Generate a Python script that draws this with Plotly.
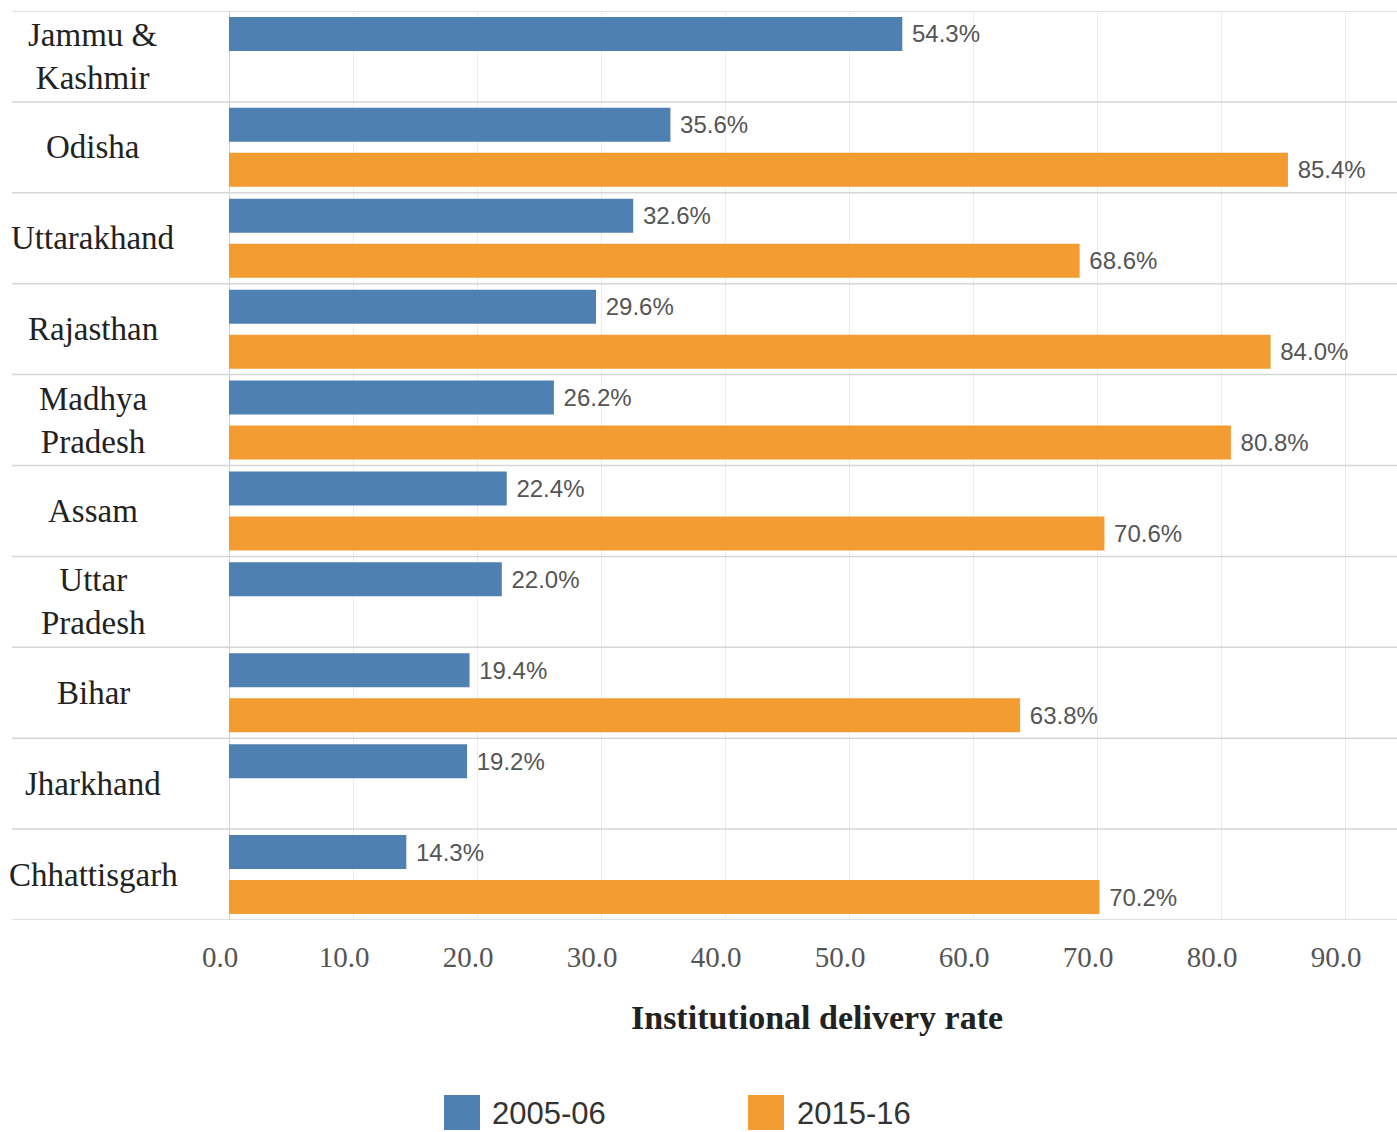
import plotly.graph_objects as go

states = ["Jammu &<br>Kashmir", "Odisha", "Uttarakhand", "Rajasthan", "Madhya<br>Pradesh",
          "Assam", "Uttar<br>Pradesh", "Bihar", "Jharkhand", "Chhattisgarh"]
rate_2005 = [54.3, 35.6, 32.6, 29.6, 26.2, 22.4, 22.0, 19.4, 19.2, 14.3]
rate_2015 = [None, 85.4, 68.6, 84.0, 80.8, 70.6, None, 63.8, None, 70.2]
series_names = ["2005-06", "2015-16"]
tick_vals = [0, 10, 20, 30, 40, 50, 60, 70, 80, 90]
tick_text = ["0.0", "10.0", "20.0", "30.0", "40.0", "50.0", "60.0", "70.0", "80.0", "90.0"]

BLUE = "#4f80b2"
ORANGE = "#f39c32"
W, H = 1397, 1132
ML, MR, MT, MB = 229, 0, 11, 212
PW = W - ML - MR
PH = H - MT - MB

def px_x(X):
    return (X - ML) / PW

def px_y(Y):
    return (H - MB - Y) / PH

cat_idx = list(range(len(states)))

fig = go.Figure()
for vals, name, col in [(rate_2005, series_names[0], BLUE), (rate_2015, series_names[1], ORANGE)]:
    fig.add_trace(go.Bar(
        y=cat_idx, x=vals, name=name, orientation="h",
        marker=dict(color=col, line=dict(width=0)),
        texttemplate="\u00a0%{x:.1f}%", textposition="outside",
        outsidetextfont=dict(family="Liberation Sans", size=24, color="#555555"),
        cliponaxis=False, showlegend=False, hoverinfo="skip",
    ))

shapes = []
# row separators
for i in range(len(states) + 1):
    shapes.append(dict(type="line", xref="paper", yref="y", x0=px_x(12), x1=1,
                       y0=i - 0.5, y1=i - 0.5, line=dict(color="#d6d6d6", width=1.5)))

annotations = []
for i, s in enumerate(states):
    annotations.append(dict(xref="paper", yref="y", x=px_x(93), y=i, text=s,
                            showarrow=False, xanchor="center", yanchor="middle",
                            font=dict(family="Liberation Serif", size=33, color="#222222")))

# axis title
annotations.append(dict(xref="paper", yref="paper", x=px_x(817), y=px_y(1018),
                        text="<b>Institutional delivery rate</b>", showarrow=False,
                        xanchor="center", yanchor="middle",
                        font=dict(family="Liberation Serif", size=34, color="#222222")))

# legend (drawn manually for large swatches)
legend_items = [(series_names[0], BLUE, 444, 480, 490), (series_names[1], ORANGE, 748, 784, 795)]
for name, col, x0, x1, tx in legend_items:
    shapes.append(dict(type="rect", xref="paper", yref="paper",
                       x0=px_x(x0), x1=px_x(x1), y0=px_y(1130), y1=px_y(1095),
                       fillcolor=col, line=dict(width=0)))
    annotations.append(dict(xref="paper", yref="paper", x=px_x(tx), y=px_y(1113),
                            text=name, showarrow=False, xanchor="left", yanchor="middle",
                            font=dict(family="Liberation Sans", size=31, color="#333333")))

fig.update_layout(
    width=W, height=H,
    margin=dict(l=ML, r=MR, t=MT, b=MB, pad=0),
    paper_bgcolor="white", plot_bgcolor="white",
    barmode="group", bargap=0.01, bargroupgap=0.245,
    shapes=shapes, annotations=annotations,
    showlegend=False,
)
fig.update_xaxes(
    range=[0, PW / 12.4], tickvals=tick_vals, ticktext=tick_text,
    showgrid=True, gridcolor="#ececec", gridwidth=1,
    zeroline=True, zerolinecolor="#d0d0d0", zerolinewidth=1,
    ticks="outside", ticklen=11, tickcolor="rgba(0,0,0,0)",
    ticklabelshift=-9,
    tickfont=dict(family="Liberation Serif", size=29, color="#555555"),
    showline=False,
)
fig.update_yaxes(
    range=[len(states) - 0.5, -0.5], showticklabels=False, showgrid=False,
    zeroline=False, showline=False, ticks="",
)

fig.write_html("out.html")
